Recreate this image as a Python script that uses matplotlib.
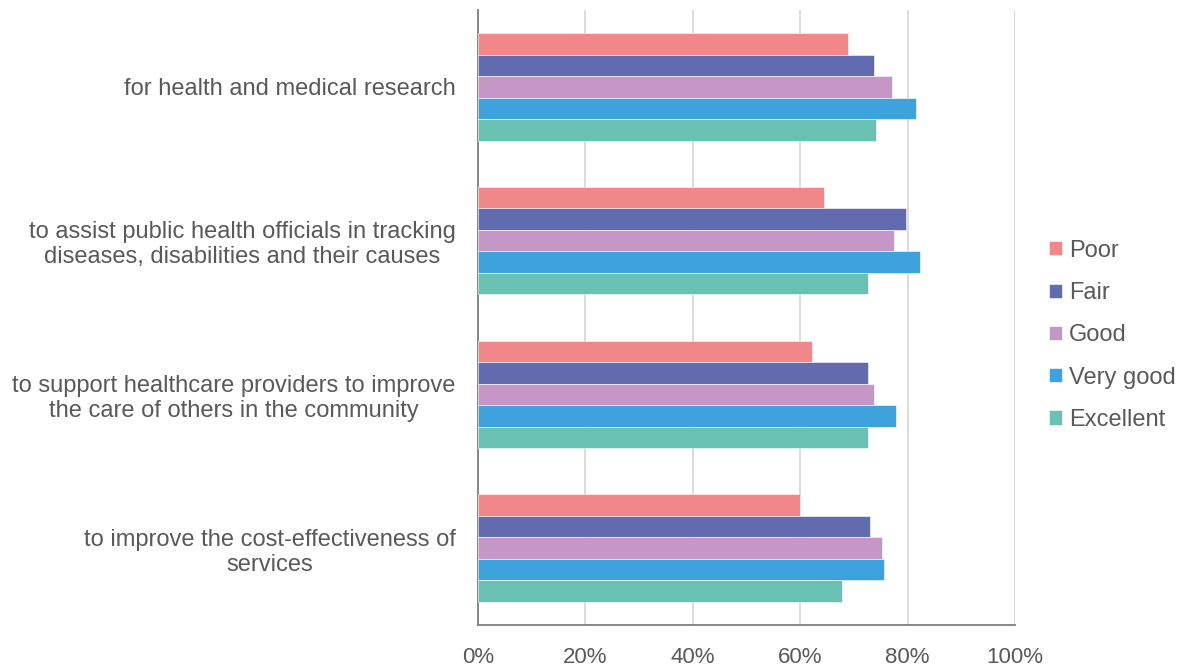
#!/usr/bin/env python3
"""Horizontal grouped bar chart: data use acceptance by self-rated health."""

import matplotlib.pyplot as plt
import numpy as np
from matplotlib.ticker import PercentFormatter

plt.rcParams["font.family"] = ["Liberation Sans", "DejaVu Sans"]

TEXT = "#595959"
GRID = "#D9D9D9"
AXIS = "#7F7F7F"

categories = [
    "for health and medical research",
    "to assist public health officials in tracking\ndiseases, disabilities and their causes",
    "to support healthcare providers to improve\nthe care of others in the community",
    "to improve the cost-effectiveness of\nservices",
]
series = ["Poor", "Fair", "Good", "Very good", "Excellent"]
colors = ["#F2878A", "#636BB0", "#C497C6", "#3EA2DC", "#69C1B3"]

poor = [68.9, 64.4, 62.2, 60.0]
fair = [73.7, 79.7, 72.6, 73.0]
good = [77.1, 77.5, 73.7, 75.2]
very_good = [81.6, 82.3, 77.8, 75.6]
excellent = [74.1, 72.6, 72.6, 67.8]
values = [poor, fair, good, very_good, excellent]

fig = plt.figure(figsize=(11.84, 6.66), dpi=100)
ax = fig.add_axes([478 / 1184, 1 - 625 / 666, (1015 - 478) / 1184, 615 / 666])

n = len(series)
group_h = 0.70
bar_h = group_h / n
y = np.arange(len(categories))
for i, (name, vals, c) in enumerate(zip(series, values, colors)):
    offs = -group_h / 2 + bar_h * (i + 0.5)
    ax.barh(y + offs, vals, height=bar_h, color=c, label=name,
            edgecolor="white", linewidth=0.4, zorder=3)

ax.set_ylim(len(categories) - 0.5, -0.5)
ax.set_xlim(0, 100)
ax.set_xticks(np.arange(0, 101, 20))
ax.xaxis.set_major_formatter(PercentFormatter(decimals=0))
ax.set_yticks(y)
ax.set_yticklabels(categories, multialignment="center", linespacing=1.18)
ax.tick_params(axis="y", length=0, pad=16, labelsize=17, labelcolor=TEXT)
ax.tick_params(axis="x", length=0, pad=16, labelsize=16, labelcolor=TEXT)

ax.grid(axis="x", color=GRID, linewidth=1.3, zorder=0)
for s in ["top", "right"]:
    ax.spines[s].set_visible(False)
ax.spines["left"].set_color(AXIS)
ax.spines["bottom"].set_color(AXIS)
ax.spines["left"].set_linewidth(1.3)
ax.spines["bottom"].set_linewidth(1.3)

ax.legend(loc="center left", bbox_to_anchor=(1.041, 0.471), frameon=False,
          fontsize=17, labelcolor=TEXT, handlelength=0.55, handleheight=0.55,
          handletextpad=0.3, labelspacing=0.86, borderpad=0)

fig.savefig("out.png", dpi=100, facecolor="white")
